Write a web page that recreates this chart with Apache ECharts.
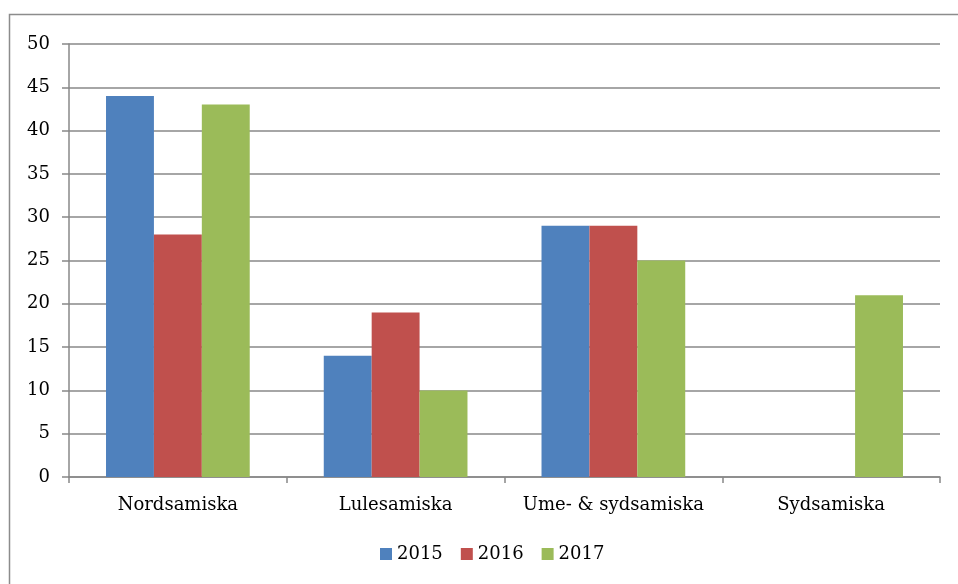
<!DOCTYPE html>
<html>
<head>
<meta charset="utf-8">
<script src="https://cdn.jsdelivr.net/npm/echarts@6/dist/echarts.min.js"></script>
<style>
  html, body { margin: 0; padding: 0; background: #fff; }
  #main { width: 958px; height: 584px; }
</style>
</head>
<body>
<div id="main"></div>
<script>
const categories = ['Nordsamiska', 'Lulesamiska', 'Ume- & sydsamiska', 'Sydsamiska']
const years = ['2015', '2016', '2017']
const values2015 = [44, 14, 29, null]
const values2016 = [28, 19, 29, null]
const values2017 = [43, 10, 25, 21]
const colors = ['#4f81bd', '#c0504d', '#9bbb59']

const chart = echarts.init(document.getElementById('main'))
const font = "'DejaVu Serif', 'Liberation Serif', serif"

const option = {
  animation: false,
  textStyle: { fontFamily: font },
  graphic: [{
    type: 'rect',
    shape: { x: 9.5, y: 14.5, width: 980, height: 600 },
    style: { fill: 'none', stroke: '#8c8c8c', lineWidth: 1.5 }
  }],
  legend: {
    data: years,
    bottom: 16,
    left: 375,
    itemWidth: 12,
    itemHeight: 12,
    itemGap: 18,
    icon: 'rect',
    textStyle: { fontFamily: font, fontSize: 18, color: '#000' }
  },
  grid: { left: 69, right: 18, top: 44, bottom: 107 },
  xAxis: {
    type: 'category',
    data: categories,
    axisLine: { lineStyle: { color: '#888', width: 1.5 } },
    axisTick: { show: true, interval: 0, length: 6, lineStyle: { color: '#888', width: 1.5 } },
    axisLabel: { interval: 0, fontFamily: font, fontSize: 18, color: '#000', margin: 19 }
  },
  yAxis: {
    type: 'value',
    min: 0,
    max: 50,
    interval: 5,
    axisLine: { show: true, lineStyle: { color: '#888', width: 1.5 } },
    axisTick: { show: true, length: 7, lineStyle: { color: '#888', width: 1.5 } },
    axisLabel: { fontFamily: font, fontSize: 18, color: '#000', margin: 19 },
    splitLine: { show: true, lineStyle: { color: '#888', width: 1.5 } }
  },
  series: [
    { name: years[0], type: 'bar', data: values2015, itemStyle: { color: colors[0] }, barGap: '0%', barCategoryGap: '34%' },
    { name: years[1], type: 'bar', data: values2016, itemStyle: { color: colors[1] }, barGap: '0%', barCategoryGap: '34%' },
    { name: years[2], type: 'bar', data: values2017, itemStyle: { color: colors[2] }, barGap: '0%', barCategoryGap: '34%' }
  ]
}

chart.setOption(option)
</script>
</body>
</html>
